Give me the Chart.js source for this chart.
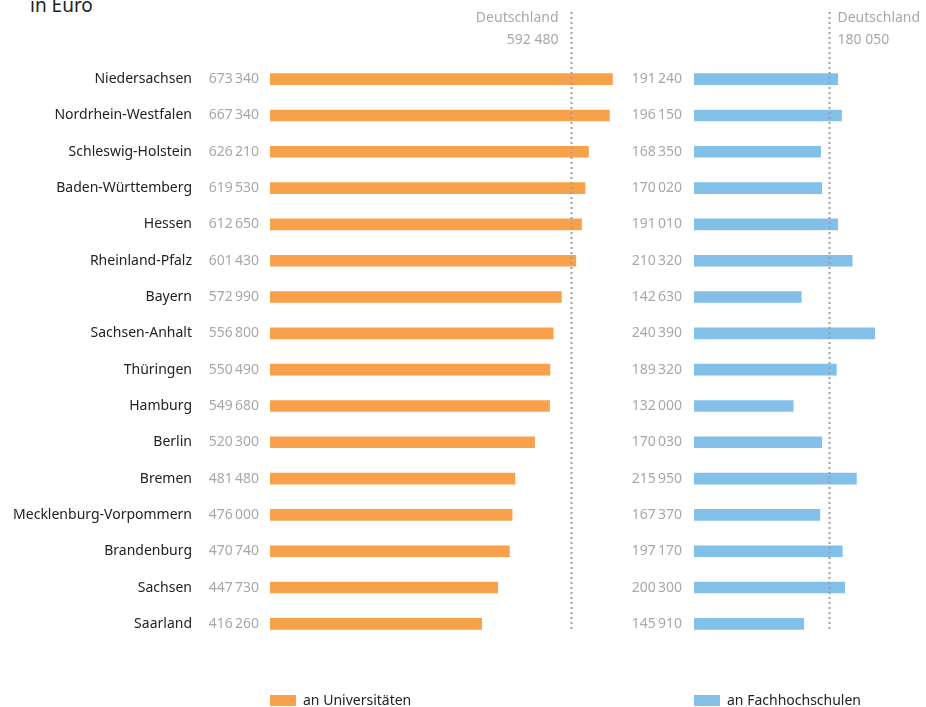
<!DOCTYPE html>
<html>
<head>
<meta charset="utf-8">
<script src="https://cdn.jsdelivr.net/npm/chart.js@4/dist/chart.umd.min.js"></script>
<style>
body { margin:0; background:#fff; width:926px; height:707px; overflow:hidden; position:relative; font-family:"Noto Sans", sans-serif; }
#title { position:absolute; left:30px; top:-8px; font-size:19px; color:#222; }
#c1 { position:absolute; left:0; top:0; }
#c2 { position:absolute; left:626px; top:0; }
.leg { position:absolute; top:690px; font-size:14px; color:#222; line-height:20px; }
.leg span { display:inline-block; width:26px; height:11px; margin-right:7px; vertical-align:-1px; }
</style>
</head>
<body>
<div id="title">in Euro</div>
<canvas id="c1" width="626" height="707"></canvas>
<canvas id="c2" width="300" height="707"></canvas>
<div class="leg" style="left:270px"><span style="background:#f8a14a"></span>an Universitäten</div>
<div class="leg" style="left:694px"><span style="background:#82c0ea"></span>an Fachhochschulen</div>
<script>
const states = ['Niedersachsen','Nordrhein-Westfalen','Schleswig-Holstein','Baden-Württemberg','Hessen','Rheinland-Pfalz','Bayern','Sachsen-Anhalt','Thüringen','Hamburg','Berlin','Bremen','Mecklenburg-Vorpommern','Brandenburg','Sachsen','Saarland'];
const uni = [673340,667340,626210,619530,612650,601430,572990,556800,550490,549680,520300,481480,476000,470740,447730,416260];
const fh = [191240,196150,168350,170020,191010,210320,142630,240390,189320,132000,170030,215950,167370,197170,200300,145910];
const uniAvg = 592480;
const fhAvg = 180050;

const grey = '#a8a8a8';
const font = { family: '"Noto Sans", sans-serif', size: 14 };
const fmt = v => String(v).replace(/\B(?=(\d{3})+(?!\d))/g, '\u202F');

function refLine(value, side) {
  return {
    id: 'ref',
    afterDatasetsDraw(chart) {
      const ctx = chart.ctx, x = Math.round(chart.scales.x.getPixelForValue(value)) + 0.5;
      ctx.save();
      ctx.strokeStyle = '#a0a0a0';
      ctx.lineWidth = 2;
      ctx.setLineDash([2, 3]);
      ctx.beginPath();
      ctx.moveTo(x, 12);
      ctx.lineTo(x, 632);
      ctx.stroke();
      ctx.fillStyle = grey;
      ctx.font = '14px "Noto Sans", sans-serif';
      ctx.textAlign = side;
      const tx = side === 'right' ? x - 13 : x + 8;
      ctx.fillText('Deutschland', tx, 22);
      ctx.fillText(String(value).replace(/\B(?=(\d{3})+(?!\d))/g, ' '), tx, 44);
      ctx.restore();
    }
  };
}

// state names left of the grey values
const stateNames = {
  id: 'stateNames',
  afterDatasetsDraw(chart) {
    const ctx = chart.ctx, ys = chart.scales.y;
    ctx.save();
    ctx.fillStyle = '#222';
    ctx.font = '14px "Noto Sans", sans-serif';
    ctx.textAlign = 'right';
    ctx.textBaseline = 'middle';
    states.forEach((s, i) => ctx.fillText(s, 192, ys.getPixelForValue(i)));
    ctx.restore();
  }
};

const base = (data, color, max) => ({
  type: 'bar',
  data: { labels: states, datasets: [{ data, backgroundColor: color, barThickness: 11 }] },
  options: {
    indexAxis: 'y',
    responsive: false,
    animation: false,
    plugins: { legend: { display: false }, tooltip: { enabled: false } },
    scales: {
      x: { display: false, min: 0, max },
      y: {
        grid: { display: false, drawTicks: false },
        border: { display: false },
        ticks: { color: grey, font, padding: 11, callback: (v, i) => fmt(data[i]) }
      }
    }
  }
});

const cfg1 = base(uni, '#f8a14a', 700000);
cfg1.options.layout = { padding: { top: 61, bottom: 65 } };
cfg1.options.scales.y.afterFit = s => { s.width = 270; };
cfg1.plugins = [stateNames, refLine(uniAvg, 'right')];
new Chart(document.getElementById('c1'), cfg1);

const cfg2 = base(fh, '#82c0ea', 250000);
cfg2.options.layout = { padding: { top: 61, bottom: 65, right: 44 } };
cfg2.options.scales.y.ticks.padding = 12;
cfg2.options.scales.y.afterFit = s => { s.width = 68; };
cfg2.plugins = [refLine(fhAvg, 'left')];
new Chart(document.getElementById('c2'), cfg2);
</script>
</body>
</html>
